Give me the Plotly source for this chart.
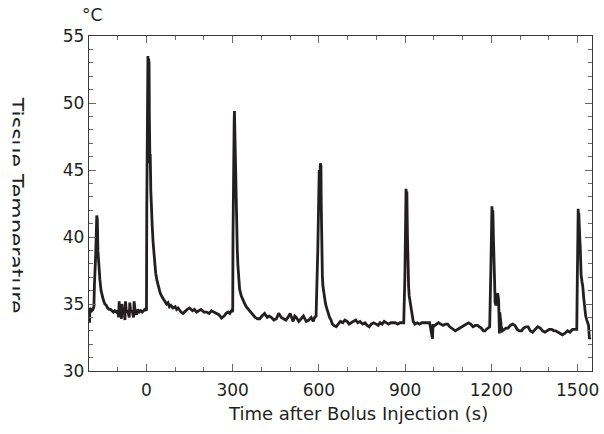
import plotly.graph_objects as go

# Time after bolus injection (s) and tissue temperature (°C)
time_s = [
    -200, -198, -197, -193, -190, -186, -183, -181, -179, -177, -175, -173, -172, -171, -169, -167,
    -165, -162, -158, -154, -150, -145, -140, -135, -130, -125, -120, -115, -110, -105, -100, -97,
    -95, -93, -90, -87, -85, -82, -78, -75, -73, -70, -65, -60, -58, -55, -50, -45, -43, -40, -35,
    -30, -25, -20, -15, -10, -5, -1,
    0, 1, 2, 3, 4, 5, 6, 7, 8, 9, 10, 11, 12, 13, 15, 17, 20, 23, 27, 32, 37, 42, 48, 55, 60, 65,
    70, 75, 80, 85, 92, 100, 105, 110, 115, 120, 127, 135, 142, 150, 160, 167, 174, 182, 190, 200,
    209, 218, 226, 234, 243, 252, 261, 270, 277, 284, 290, 296, 299,
    300, 301, 302, 303, 305, 306, 307, 308, 309, 310, 311, 312, 314, 316, 318, 321, 324, 330, 335,
    340, 347, 355, 362, 370, 378, 386, 394, 402, 411, 420, 427, 434, 443, 452, 460, 469, 478, 485,
    492, 500, 510, 516, 521, 530, 538, 546, 556, 565, 573, 580, 585, 590, 596, 599,
    600, 601, 603, 605, 606, 607, 608, 609, 610, 611, 612, 614, 616, 619, 623, 627, 632, 637, 642,
    647, 652, 660, 667, 675, 683, 690, 698, 705, 712, 720, 728, 735, 743, 752, 760, 768, 775, 782,
    790, 799, 806, 813, 820, 827, 834, 842, 850, 858, 866, 874, 882, 890, 895, 899,
    900, 901, 903, 905, 906, 907, 908, 909, 910, 912, 914, 917, 920, 924, 928, 934, 942, 950, 958,
    966, 975, 985, 995, 996, 997, 998, 1003, 1009, 1016, 1024, 1032, 1040, 1048, 1055, 1061, 1068,
    1075, 1082, 1090, 1097, 1105, 1113, 1120, 1128, 1136, 1144, 1152, 1158, 1165, 1172, 1178, 1182,
    1188, 1194, 1198,
    1199, 1200, 1202, 1204, 1205, 1206, 1207, 1208, 1209, 1210, 1211, 1213, 1216, 1219, 1222, 1225,
    1228, 1229, 1230, 1231, 1234, 1238, 1244, 1251, 1258, 1266, 1274, 1282, 1290, 1297, 1305, 1312,
    1320, 1328, 1335, 1343, 1352, 1361, 1370, 1378, 1386, 1393, 1401, 1410, 1418, 1424, 1432, 1440,
    1447, 1455, 1465, 1473, 1482, 1490, 1497, 1499,
    1500, 1501, 1502, 1503, 1504, 1505, 1506, 1507, 1508, 1509, 1510, 1512, 1515, 1518, 1521, 1524,
    1528, 1532, 1535, 1538, 1541, 1544, 1547, 1550,
]
temperature_c = [
    34.6, 33.6, 34.7, 34.6, 34.5, 34.6, 34.8, 36.5, 37.2, 38.5, 40.0, 41.6, 40.6, 41.3, 39.0, 38.0,
    37.3, 36.8, 36.0, 35.6, 35.3, 35.0, 34.9, 34.7, 34.6, 34.6, 34.5, 34.4, 34.5, 34.4, 34.5, 34.0,
    35.2, 34.3, 34.5, 33.9, 35.0, 34.3, 34.6, 33.8, 35.2, 34.4, 34.5, 34.0, 35.1, 34.4, 34.5, 34.0,
    35.2, 34.5, 34.2, 34.6, 34.4, 34.5, 34.4, 34.5, 34.6, 34.5,
    34.6, 42.0, 45.5, 50.0, 53.0, 53.5, 51.0, 53.3, 52.0, 53.0, 49.0, 46.0, 45.5, 46.2, 43.5, 42.0,
    40.8, 39.6, 38.4, 37.3, 36.7, 36.2, 35.8, 35.5, 35.3, 35.2, 35.0, 35.1, 34.8, 34.9, 34.7, 34.8,
    34.6, 34.7, 34.5, 34.4, 34.3, 34.5, 34.6, 34.7, 34.5, 34.6, 34.4, 34.5, 34.6, 34.4, 34.4, 34.3,
    34.5, 34.4, 34.3, 34.2, 33.95, 34.1, 34.3, 34.4, 34.3, 34.5, 34.4,
    34.5, 40.0, 44.0, 46.5, 48.5, 49.4, 48.0, 49.3, 47.0, 45.0, 43.5, 42.0, 40.2, 39.0, 37.9, 37.0,
    36.1, 35.6, 35.3, 35.1, 34.8, 34.6, 34.4, 34.2, 34.0, 33.9, 33.9, 34.1, 34.3, 34.0, 34.1, 34.0,
    33.8, 33.9, 34.3, 34.0, 33.9, 33.8, 34.0, 34.3, 33.7, 34.1, 34.0, 33.7, 33.9, 34.1, 33.7, 33.8,
    34.0, 33.7, 34.0,
    34.1, 39.0, 42.5, 44.0, 45.0, 44.2, 45.5, 44.8, 45.3, 42.5, 40.5, 38.8, 37.8, 37.0, 36.3, 35.9,
    35.4, 35.0, 34.7, 34.3, 34.0, 33.8, 33.5, 33.4, 33.3, 33.5, 33.7, 33.6, 33.8, 33.7, 33.5, 33.6,
    33.7, 33.8, 33.6, 33.7, 33.5, 33.6, 33.4, 33.3, 33.5, 33.6, 33.5, 33.4, 33.6, 33.5, 33.7, 33.6,
    33.5, 33.6, 33.6, 33.6, 33.5, 33.6, 33.6,
    33.6, 37.0, 40.5, 42.0, 43.6, 42.0, 43.4, 41.5, 40.0, 38.5, 37.3, 36.3, 35.6, 35.1, 34.7, 34.0,
    33.7, 33.5, 33.6, 33.5, 33.6, 33.6, 33.6, 33.6, 32.4, 33.5, 33.5, 33.3, 33.4, 33.5, 33.6, 33.5,
    33.4, 33.5, 33.5, 33.3, 33.2, 33.1, 33.0, 33.1, 33.2, 33.3, 33.4, 33.5, 33.6, 33.5, 33.3, 33.4,
    33.4, 33.3, 33.2, 33.0, 33.0, 33.1, 33.2,
    33.3, 37.5, 40.5, 41.5, 42.3, 40.8, 42.0, 41.0, 40.0, 39.0, 38.3, 36.8, 35.8, 35.1, 34.9, 35.4,
    35.8, 35.3, 32.8, 34.4, 34.0, 33.7, 33.4, 33.0, 33.1, 33.2, 33.2, 33.4, 33.5, 33.4, 33.1, 33.0,
    33.0, 33.2, 33.3, 33.3, 33.0, 32.9, 33.1, 33.3, 33.2, 33.0, 32.9, 33.0, 33.1, 33.1, 33.0, 33.0,
    32.9, 32.8, 32.7, 32.8, 33.0, 32.9, 33.1, 33.1,
    33.1, 37.0, 39.5, 41.0, 42.1, 41.0, 41.8, 40.5, 41.2, 40.0, 39.6, 39.3, 38.0, 37.2, 36.7, 36.3,
    35.5, 34.7, 34.1, 33.8, 33.6, 33.4, 32.4, 32.5,
]

x_tick_values = [0, 300, 600, 900, 1200, 1500]
y_tick_values = [30, 35, 40, 45, 50, 55]

ink = "#231f20"
font_family = "DejaVu Sans"

fig = go.Figure()
fig.add_trace(go.Scatter(
    x=time_s, y=temperature_c, mode="lines",
    line=dict(color=ink, width=2.8),
    hoverinfo="skip", showlegend=False,
))

axis_common = dict(
    showgrid=False, zeroline=False,
    showline=True, linecolor="#3a3a3a", linewidth=1.4, mirror="ticks",
    ticks="inside", ticklen=7, tickwidth=1, tickcolor="#6a6a6a",
    tickfont=dict(family=font_family, size=17, color=ink),
)

fig.update_xaxes(
    range=[-200, 1550], tickvals=x_tick_values, ticklabelstandoff=3,
    minor=dict(dtick=100, tick0=0, ticks="inside", ticklen=4, tickcolor="#6a6a6a", tickwidth=1),
    **axis_common,
)
fig.update_yaxes(
    range=[30, 55], tickvals=y_tick_values,
    minor=dict(dtick=1, tick0=30, ticks="inside", ticklen=4, tickcolor="#6a6a6a", tickwidth=1),
    **axis_common,
)

fig.add_annotation(
    text="Time after Bolus Injection (s)",
    xref="paper", yref="paper", x=0.535, y=-0.126,
    xanchor="center", yanchor="middle", showarrow=False,
    font=dict(family=font_family, size=18, color=ink),
)
fig.add_annotation(
    text="Tissue Temperature", textangle=90,
    xref="paper", yref="paper", x=-0.1378, y=0.496,
    xanchor="center", yanchor="middle",
    width=240, height=15, valign="top", showarrow=False,
    font=dict(family=font_family, size=22, color=ink),
)
fig.add_annotation(
    text="°C", xref="paper", yref="paper", x=0.006, y=1.062,
    xanchor="center", yanchor="middle", showarrow=False,
    font=dict(family=font_family, size=17, color=ink),
)

fig.update_layout(
    width=604, height=434,
    margin=dict(l=89, r=12, t=36, b=63, autoexpand=False),
    paper_bgcolor="white", plot_bgcolor="white",
    font=dict(family=font_family, color=ink),
)

fig.write_html("out.html", config={"displayModeBar": False},
               post_script="document.body.style.margin='0';")
